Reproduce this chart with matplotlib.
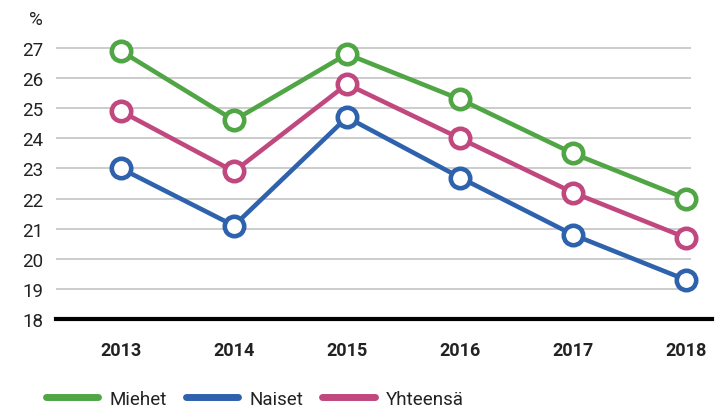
import matplotlib.pyplot as plt
from matplotlib.lines import Line2D

years = ['2013', '2014', '2015', '2016', '2017', '2018']
miehet = [26.9, 24.6, 26.8, 25.3, 23.5, 22.0]
naiset = [23.0, 21.1, 24.7, 22.7, 20.8, 19.3]
yhteensa = [24.9, 22.9, 25.8, 24.0, 22.2, 20.7]
y_ticks = [18, 19, 20, 21, 22, 23, 24, 25, 26, 27]

series = [
    ('Miehet', miehet, '#50a545'),
    ('Naiset', naiset, '#2e62ad'),
    ('Yhteensä', yhteensa, '#c0487f'),
]

plt.rcParams['font.family'] = ['Roboto', 'DejaVu Sans']

fig = plt.figure(figsize=(7.18, 4.10), dpi=100)
ax = fig.add_axes([56 / 718, (410 - 320) / 410, (712 - 56) / 718, (320 - 34) / 410])

x = list(range(len(years)))
ax.set_xlim(-0.575, 5.23)
ax.set_ylim(18, 27.5)

# gridlines (stop just after last category)
for v in y_ticks[1:]:
    ax.hlines(v, -0.575, 5.045, color='#c8c8c8', linewidth=1.3, zorder=1)
ax.axhline(18, color='black', linewidth=3, zorder=2, clip_on=False)

handles = []
for name, vals, col in series:
    ax.plot(x, vals, color=col, linewidth=3.3, marker='o', markersize=14,
            markerfacecolor='white', markeredgecolor=col, markeredgewidth=3.3,
            zorder=3, clip_on=False)
    handles.append(Line2D([0], [0], color=col, linewidth=5, solid_capstyle='round'))

for s in ax.spines.values():
    s.set_visible(False)

ax.set_yticks(y_ticks)
ax.set_yticklabels([str(v) for v in y_ticks], fontsize=13.5, color='#222222')
ax.set_xticks(x)
ax.set_xticklabels(years, fontsize=13, fontweight='bold', color='#222222')
ax.tick_params(axis='both', length=0)
ax.tick_params(axis='y', pad=9)
ax.tick_params(axis='x', pad=16)

fig.text(36 / 718, 1 - 20 / 410, '%', fontsize=13.5, color='#222222',
         ha='center', va='center')

fig.legend(handles, [s[0] for s in series], loc='center left',
           bbox_to_anchor=(29 / 718, 1 - 400 / 410), ncol=3, frameon=False,
           fontsize=13.5, handlelength=2.8, handletextpad=0.6, columnspacing=1.0,
           labelcolor='#222222')

fig.savefig('out.png', dpi=100)
